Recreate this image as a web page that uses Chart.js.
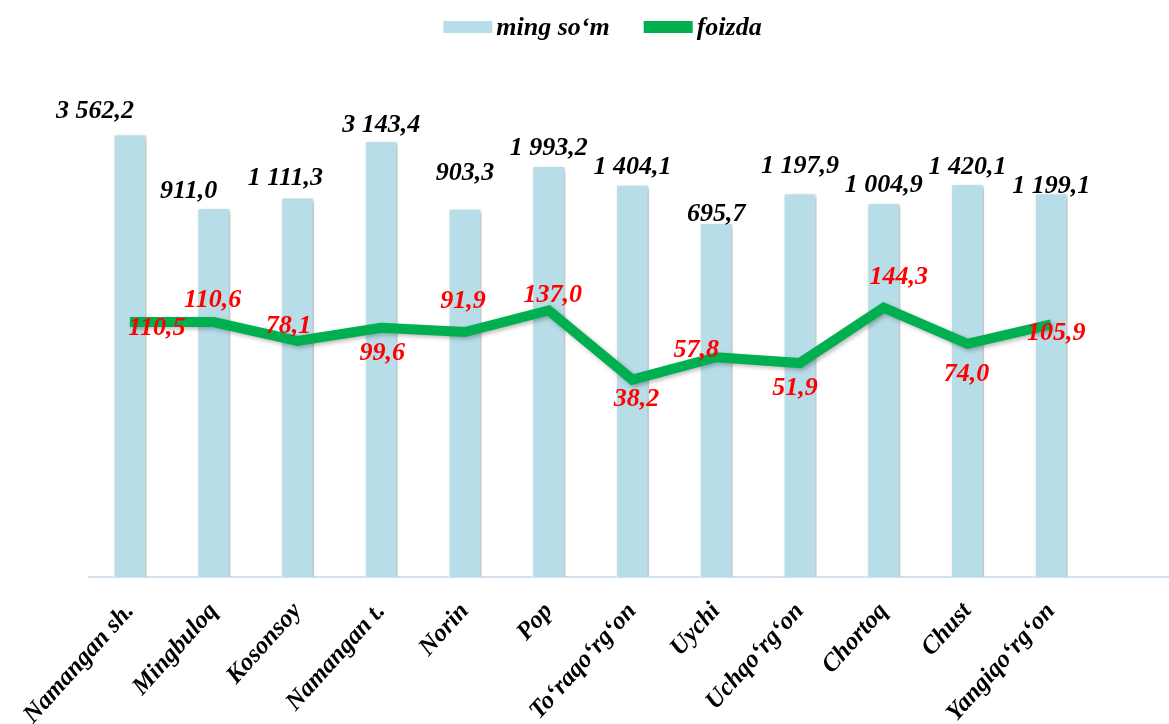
<!DOCTYPE html>
<html>
<head>
<meta charset="utf-8">
<script src="https://cdn.jsdelivr.net/npm/chart.js@4.4.0/dist/chart.umd.min.js"></script>
<style>
  html, body { margin: 0; padding: 0; background: #ffffff; }
  #wrap { width: 1169px; height: 724px; }
</style>
</head>
<body>
<div id="wrap"><canvas id="districtChart"></canvas></div>
<script>
// districts (x axis)
const districts = ["Namangan sh.", "Mingbuloq", "Kosonsoy", "Namangan t.", "Norin", "Pop",
  "To‘raqo‘rg‘on", "Uychi", "Uchqo‘rg‘on", "Chortoq", "Chust", "Yangiqo‘rg‘on"];

// bars - ming so'm
const amounts = [3562.2, 911.0, 1111.3, 3143.4, 903.3, 1993.2, 1404.1, 695.7, 1197.9, 1004.9, 1420.1, 1199.1];

// line - foizda
const percents = [110.5, 110.6, 78.1, 99.6, 91.9, 137.0, 38.2, 57.8, 51.9, 144.3, 74.0, 105.9];

const seriesNames = ["ming so‘m", "foizda"];

// label nudges (px), the labels were moved by hand in the original
const barLabelShift = [-35, -25, -12, 0, 0, 0, 0, 0, 0, 0, 0, 0];
const barLabelLift = [16, 10, 12, 9, 28, 10, 10, 1, 20, 10, 10, 0];
const lineLabelShift = [[27, 6], [-1, -22], [-9, -15], [1, 26], [-2, -31], [4, -15],
  [4, 20], [-20, -7], [-5, 25], [15, -30], [-1, 30], [5, 9]];

const serif = "'Liberation Serif', 'Times New Roman', serif";
const barColor = "#b7dde8";
const lineColor = "#00b050";

// 3 562,2 style numbers
function fmt(v) {
  let parts = v.toFixed(1).split(".");
  parts[0] = parts[0].replace(/\B(?=(\d{3})+(?!\d))/g, " ");
  return parts.join(",");
}

// soft shadow under bars and line
const shadowPlugin = {
  id: "shadow",
  beforeDatasetDraw(chart) {
    let ctx = chart.ctx;
    ctx.save();
    ctx.shadowColor = "rgba(0,0,0,0.28)";
    ctx.shadowBlur = 4;
    ctx.shadowOffsetX = 2;
    ctx.shadowOffsetY = 2;
  },
  afterDatasetDraw(chart) {
    chart.ctx.restore();
  }
};

// axis line runs to the right edge
const axisLinePlugin = {
  id: "axisLine",
  beforeDatasetsDraw(chart) {
    let ctx = chart.ctx;
    let y = chart.chartArea.bottom;
    ctx.save();
    ctx.strokeStyle = "#d5e0ef";
    ctx.lineWidth = 2;
    ctx.beginPath();
    ctx.moveTo(chart.chartArea.left, y);
    ctx.lineTo(chart.width, y);
    ctx.stroke();
    ctx.restore();
  }
};

// value labels
const labelPlugin = {
  id: "valueLabels",
  afterDatasetsDraw(chart) {
    let ctx = chart.ctx;
    ctx.save();
    ctx.font = "italic bold 26px " + serif;
    ctx.textAlign = "center";

    let bars = chart.getDatasetMeta(0).data;
    ctx.fillStyle = "#000000";
    ctx.textBaseline = "alphabetic";
    bars.forEach((bar, i) => {
      ctx.fillText(fmt(amounts[i]), bar.x + barLabelShift[i], bar.y - barLabelLift[i]);
    });

    let pts = chart.getDatasetMeta(1).data;
    ctx.fillStyle = "#ff0000";
    ctx.textBaseline = "middle";
    pts.forEach((p, i) => {
      ctx.fillText(fmt(percents[i]), p.x + lineLabelShift[i][0], p.y + lineLabelShift[i][1]);
    });
    ctx.restore();
  }
};

// legend at the top
const legendPlugin = {
  id: "topLegend",
  afterDraw(chart) {
    let ctx = chart.ctx;
    ctx.save();
    ctx.font = "italic bold 26px " + serif;
    ctx.textBaseline = "middle";
    let colors = [barColor, lineColor];
    let boxW = 49, boxH = 12, gap = 4, between = 34;
    let widths = seriesNames.map(n => boxW + gap + ctx.measureText(n).width);
    let total = widths[0] + between + widths[1];
    let x = chart.width / 2 + 18 - total / 2;
    let y = 27;
    seriesNames.forEach((name, i) => {
      ctx.fillStyle = colors[i];
      ctx.fillRect(x, y - boxH / 2, boxW, boxH);
      ctx.fillStyle = "#000000";
      ctx.textAlign = "left";
      ctx.fillText(name, x + boxW + gap, y + 1);
      x += widths[i] + between;
    });
    ctx.restore();
  }
};

let ctx = document.getElementById("districtChart").getContext("2d");

let chart = new Chart(ctx, {
  type: "bar",
  data: {
    labels: districts,
    datasets: [
      {
        type: "bar",
        label: seriesNames[0],
        data: amounts,
        backgroundColor: barColor,
        borderColor: "#ffffff",
        borderWidth: 1.5,
        barPercentage: 0.8,
        categoryPercentage: 0.5,
        order: 1
      },
      {
        type: "line",
        label: seriesNames[1],
        data: percents,
        borderColor: lineColor,
        backgroundColor: lineColor,
        borderWidth: 10,
        borderJoinStyle: "miter",
        borderCapStyle: "butt",
        pointRadius: 0,
        tension: 0,
        fill: false,
        order: 0
      }
    ]
  },
  options: {
    responsive: true,
    maintainAspectRatio: false,
    animation: false,
    layout: {
      padding: { top: 78, left: 88, right: 76, bottom: 0 }
    },
    plugins: {
      legend: { display: false },
      tooltip: { enabled: false }
    },
    scales: {
      x: {
        grid: { display: false, drawTicks: false },
        border: { display: false },
        ticks: {
          autoSkip: false,
          minRotation: 48,
          maxRotation: 48,
          padding: 20,
          color: "#000000",
          font: { family: serif, size: 25, style: "italic", weight: "bold" }
        },
        afterFit(scale) {
          scale.height = 147;
        }
      },
      y: {
        type: "logarithmic",
        display: false,
        min: 1,
        max: 10000
      }
    }
  },
  plugins: [shadowPlugin, axisLinePlugin, labelPlugin, legendPlugin]
});
</script>
</body>
</html>
